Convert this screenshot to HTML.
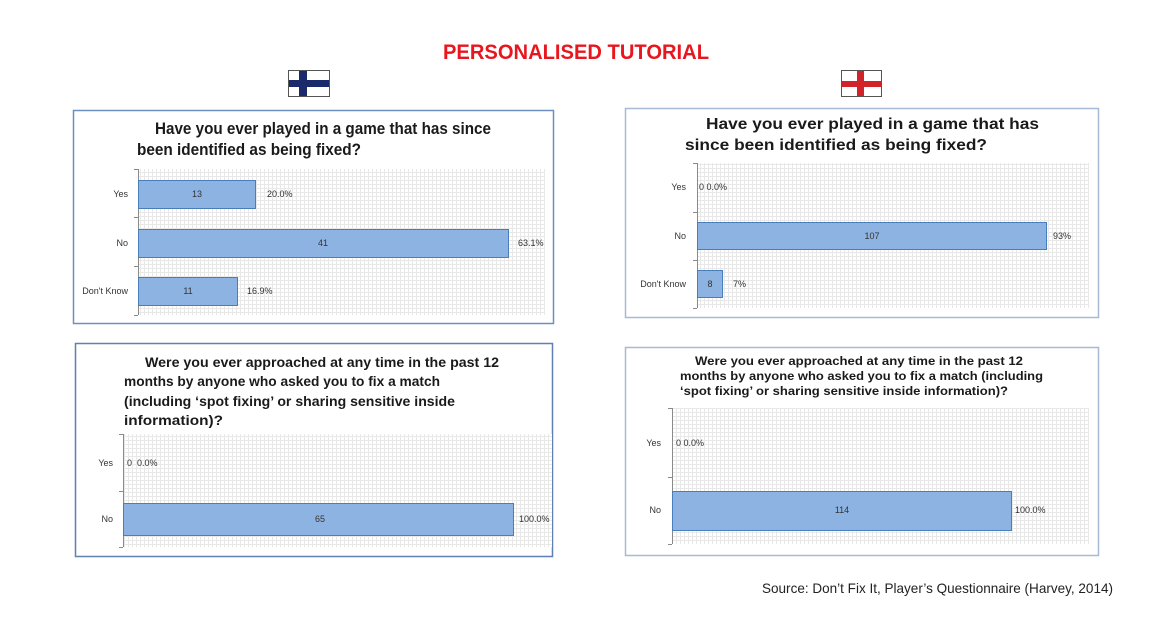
<!DOCTYPE html>
<html><head><meta charset="utf-8"><style>
html,body{margin:0;padding:0;background:#fff;}
svg{display:block;}
text{font-family:"Liberation Sans",Arial,sans-serif;}
.t{font-weight:bold;fill:#1a1a1a;}
.c{font-size:9px;fill:#333;}
.v{font-size:9px;fill:#333;}
.bar{fill:#8db3e2;stroke:#4a7ebb;stroke-width:1;}
.ax{stroke:#8a8a8a;stroke-width:1;fill:none;}
</style></head><body>
<svg width="1154" height="617" viewBox="0 0 1154 617" xmlns="http://www.w3.org/2000/svg">
<defs>
<pattern id="g" width="4" height="4" patternUnits="userSpaceOnUse">
<rect width="4" height="4" fill="#fff"/>
<rect x="0" y="0" width="4" height="1" fill="#e8e8e8"/>
<rect x="0" y="0" width="1" height="4" fill="#e8e8e8"/>
</pattern>
</defs>
<rect width="1154" height="617" fill="#fff"/>

<!-- main title -->
<text x="443" y="59" font-size="21" font-weight="bold" fill="#e8161e" textLength="266" lengthAdjust="spacingAndGlyphs">PERSONALISED TUTORIAL</text>

<!-- Finland flag -->
<rect x="288.5" y="70.5" width="41" height="26" fill="#fff" stroke="#555" stroke-width="1"/>
<rect x="299" y="71" width="8" height="25" fill="#1b2a6b"/>
<rect x="289" y="80" width="40" height="7" fill="#1b2a6b"/>

<!-- England flag -->
<rect x="841.5" y="70.5" width="40" height="26" fill="#fff" stroke="#555" stroke-width="1"/>
<rect x="857" y="71" width="7" height="25" fill="#d2232a"/>
<rect x="842" y="81" width="39" height="6" fill="#d2232a"/>

<!-- ===== Box 1 ===== -->
<rect x="73.5" y="110.5" width="480" height="213" fill="#fff" stroke="#6f8fc0" stroke-width="1.5"/>
<text class="t" x="155" y="134" font-size="16.5" textLength="336" lengthAdjust="spacingAndGlyphs">Have you ever played in a game that has since</text>
<text class="t" x="137" y="155" font-size="16.5" textLength="224" lengthAdjust="spacingAndGlyphs">been identified as being fixed?</text>
<rect x="138" y="169" width="407" height="146" fill="url(#g)"/>
<path class="ax" d="M138.5 169V315M134 169.5H138M134 217.5H138M134 266.5H138M134 315.5H138"/>
<rect class="bar" x="138.5" y="180.5" width="117" height="28"/>
<rect class="bar" x="138.5" y="229.5" width="370" height="28"/>
<rect class="bar" x="138.5" y="277.5" width="99" height="28"/>
<text class="c" x="128" y="197" text-anchor="end">Yes</text>
<text class="c" x="128" y="246" text-anchor="end">No</text>
<text class="c" x="128" y="294" text-anchor="end">Don't Know</text>
<text class="v" x="197" y="197" text-anchor="middle">13</text>
<text class="v" x="323" y="246" text-anchor="middle">41</text>
<text class="v" x="188" y="294" text-anchor="middle">11</text>
<text class="v" x="267" y="197">20.0%</text>
<text class="v" x="518" y="246">63.1%</text>
<text class="v" x="247" y="294">16.9%</text>

<!-- ===== Box 2 ===== -->
<rect x="625.5" y="108.5" width="473" height="209" fill="#fff" stroke="#a6b9d5" stroke-width="1.5"/>
<text class="t" x="706" y="129" font-size="16" textLength="333" lengthAdjust="spacingAndGlyphs">Have you ever played in a game that has</text>
<text class="t" x="685" y="150" font-size="16" textLength="302" lengthAdjust="spacingAndGlyphs">since been identified as being fixed?</text>
<rect x="697" y="163" width="392" height="145" fill="url(#g)"/>
<path class="ax" d="M697.5 163V308M693 163.5H697M693 212.5H697M693 260.5H697M693 308.5H697"/>
<rect class="bar" x="697.5" y="222.5" width="349" height="27"/>
<rect class="bar" x="697.5" y="270.5" width="25" height="27"/>
<text class="c" x="686" y="190" text-anchor="end">Yes</text>
<text class="c" x="686" y="239" text-anchor="end">No</text>
<text class="c" x="686" y="287" text-anchor="end">Don't Know</text>
<text class="v" x="699" y="190">0 0.0%</text>
<text class="v" x="872" y="239" text-anchor="middle">107</text>
<text class="v" x="710" y="287" text-anchor="middle">8</text>
<text class="v" x="1053" y="239">93%</text>
<text class="v" x="733" y="287">7%</text>

<!-- ===== Box 3 ===== -->
<rect x="75.5" y="343.5" width="477" height="213" fill="#fff" stroke="#5f7fb5" stroke-width="1.5"/>
<text class="t" x="145" y="367" font-size="14" textLength="354" lengthAdjust="spacingAndGlyphs">Were you ever approached at any time in the past 12</text>
<text class="t" x="124" y="386" font-size="14" textLength="316" lengthAdjust="spacingAndGlyphs">months by anyone who asked you to fix a match</text>
<text class="t" x="124" y="406" font-size="14" textLength="331" lengthAdjust="spacingAndGlyphs">(including ‘spot fixing’ or sharing sensitive inside</text>
<text class="t" x="124" y="425" font-size="14" textLength="99" lengthAdjust="spacingAndGlyphs">information)?</text>
<rect x="123" y="434" width="429" height="113" fill="url(#g)"/>
<path class="ax" d="M123.5 434V547M119 434.5H123M119 491.5H123M119 547.5H123"/>
<rect class="bar" x="123.5" y="503.5" width="390" height="32"/>
<text class="c" x="113" y="466" text-anchor="end">Yes</text>
<text class="c" x="113" y="522" text-anchor="end">No</text>
<text class="v" x="127" y="466">0&#160;&#160;0.0%</text>
<text class="v" x="320" y="522" text-anchor="middle">65</text>
<text class="v" x="519" y="522">100.0%</text>

<!-- ===== Box 4 ===== -->
<rect x="625.5" y="347.5" width="473" height="208" fill="#fff" stroke="#a6b9d5" stroke-width="1.5"/>
<text class="t" x="695" y="365" font-size="12" textLength="328" lengthAdjust="spacingAndGlyphs">Were you ever approached at any time in the past 12</text>
<text class="t" x="680" y="380" font-size="12" textLength="363" lengthAdjust="spacingAndGlyphs">months by anyone who asked you to fix a match (including</text>
<text class="t" x="680" y="395" font-size="12" textLength="328" lengthAdjust="spacingAndGlyphs">‘spot fixing’ or sharing sensitive inside information)?</text>
<rect x="672" y="408" width="417" height="136" fill="url(#g)"/>
<path class="ax" d="M672.5 408V544M668 408.5H672M668 477.5H672M668 544.5H672"/>
<rect class="bar" x="672.5" y="491.5" width="339" height="39"/>
<text class="c" x="661" y="446" text-anchor="end">Yes</text>
<text class="c" x="661" y="513" text-anchor="end">No</text>
<text class="v" x="676" y="446">0 0.0%</text>
<text class="v" x="842" y="513" text-anchor="middle">114</text>
<text class="v" x="1015" y="513">100.0%</text>

<!-- source -->
<text x="762" y="593" font-size="14" fill="#222" textLength="351" lengthAdjust="spacingAndGlyphs">Source: Don’t Fix It, Player’s Questionnaire (Harvey, 2014)</text>
</svg>
</body></html>
